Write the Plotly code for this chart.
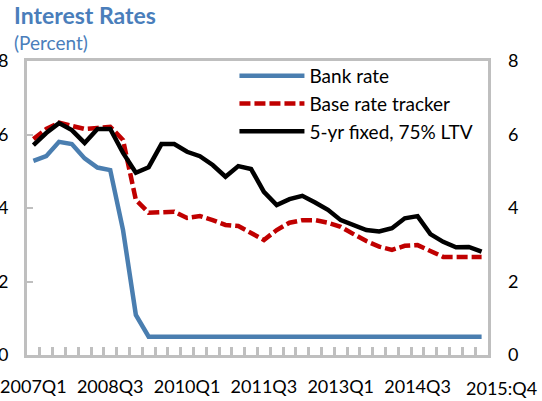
import plotly.graph_objects as go

quarters = [f"{y}Q{q}" for y in range(2007, 2016) for q in range(1, 5)]

bank_rate = [5.28, 5.41, 5.8, 5.74, 5.35, 5.1, 5.03, 3.4, 1.09, 0.5,
             0.5, 0.5, 0.5, 0.5, 0.5, 0.5, 0.5, 0.5, 0.5, 0.5,
             0.5, 0.5, 0.5, 0.5, 0.5, 0.5, 0.5, 0.5, 0.5, 0.5,
             0.5, 0.5, 0.5, 0.5, 0.5, 0.5]
base_tracker = [5.88, 6.15, 6.32, 6.23, 6.15, 6.18, 6.21, 5.85, 4.22, 3.87,
                3.89, 3.9, 3.73, 3.78, 3.67, 3.54, 3.51, 3.32, 3.13, 3.4,
                3.6, 3.67, 3.67, 3.6, 3.49, 3.29, 3.1, 2.95, 2.86, 2.97,
                2.99, 2.83, 2.67, 2.67, 2.67, 2.67]
fixed_5yr = [5.71, 6.04, 6.31, 6.12, 5.77, 6.15, 6.15, 5.5, 4.96, 5.11,
             5.74, 5.74, 5.53, 5.41, 5.17, 4.85, 5.14, 5.06, 4.44, 4.08,
             4.24, 4.33, 4.15, 3.95, 3.67, 3.52, 3.4, 3.36, 3.45, 3.72,
             3.78, 3.29, 3.08, 2.93, 2.94, 2.81]

x_labels = {"2007Q1": "2007Q1", "2008Q3": "2008Q3", "2010Q1": "2010Q1",
            "2011Q3": "2011Q3", "2013Q1": "2013Q1", "2014Q3": "2014Q3"}
last_label = "2015:Q4"
y_ticks = [0, 2, 4, 6, 8]

FONT = "Lato"
GRAY = "#BFBFBF"

fig = go.Figure()
fig.add_trace(go.Scatter(x=quarters, y=bank_rate, mode="lines", name="Bank rate",
                         line=dict(color="#4A7EB0", width=4.5)))
fig.add_trace(go.Scatter(x=quarters, y=base_tracker, mode="lines", name="Base rate tracker",
                         line=dict(color="#C00000", width=4.5, dash="11px,4px")))
fig.add_trace(go.Scatter(x=quarters, y=fixed_5yr, mode="lines", name="5-yr fixed, 75% LTV",
                         line=dict(color="#000000", width=4.5)))

fig.update_layout(
    width=542, height=401,
    margin=dict(l=27, r=54, t=61, b=46, autoexpand=False),
    paper_bgcolor="white", plot_bgcolor="white",
    font=dict(family=FONT, size=18, color="black"),
    showlegend=True,
    legend=dict(x=0.45, y=1 + 4 / 294, xanchor="left", yanchor="top",
                bgcolor="rgba(0,0,0,0)", itemwidth=65,
                font=dict(size=19, family=FONT)),
    xaxis=dict(type="category", categoryorder="array", categoryarray=quarters,
               range=[-0.5, len(quarters) - 0.5], automargin=False,
               tickvals=quarters, tickangle=0,
               ticktext=[x_labels.get(q, "") for q in quarters],
               tickson="boundaries", ticks="inside", ticklen=8, tickwidth=2.5,
               tickcolor=GRAY, showgrid=False, zeroline=False,
               showline=True, linecolor=GRAY, linewidth=3, mirror=True,
               tickfont=dict(size=18), ticklabelstandoff=13),
    yaxis=dict(range=[0, 8], tickvals=y_ticks, ticks="inside", ticklen=6,
               automargin=False,
               tickwidth=2, tickcolor=GRAY, showgrid=False, zeroline=False,
               showline=True, linecolor=GRAY, linewidth=3, mirror=True,
               tickfont=dict(size=18), ticklabelstandoff=12),
    yaxis2=dict(range=[0, 8], tickvals=y_ticks, overlaying="y", side="right",
                automargin=False,
                ticks="", showgrid=False, zeroline=False, showline=False,
                tickfont=dict(size=18), ticklabelstandoff=19),
    annotations=[
        dict(text="<b>Interest Rates</b>", xref="paper", yref="paper",
             x=-15 / 461, y=1 + 46 / 294, xanchor="left", yanchor="middle",
             showarrow=False, font=dict(size=23, color="#4A7EBB", family=FONT)),
        dict(text="(Percent)", xref="paper", yref="paper",
             x=-15 / 461, y=1 + 19 / 294, xanchor="left", yanchor="middle",
             showarrow=False, font=dict(size=19, color="#4A7EBB", family=FONT)),
        dict(text=last_label, xref="x", yref="paper", x=quarters[-1], y=0,
             xanchor="center", yanchor="top", yshift=-20, xshift=20,
             showarrow=False, font=dict(size=18, family=FONT)),
    ],
)
fig.add_trace(go.Scatter(x=[quarters[0]], y=[0], yaxis="y2", mode="lines",
                         showlegend=False, hoverinfo="skip",
                         line=dict(color="rgba(0,0,0,0)")))

fig.write_html("out.html", config={"displayModeBar": False},
               post_script="document.body.style.margin='0';document.body.style.overflow='hidden';")
